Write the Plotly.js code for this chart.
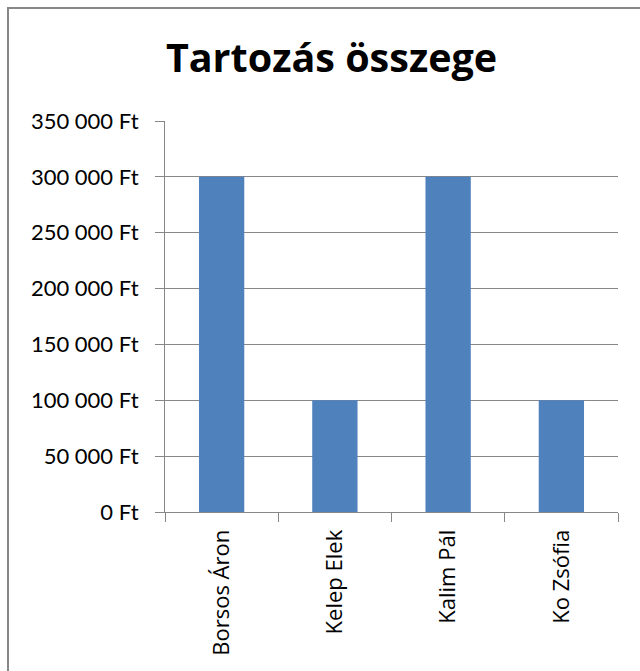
<!DOCTYPE html>
<html>
<head>
<meta charset="utf-8">
<script src="https://cdn.plot.ly/plotly-3.0.1.min.js"></script>
<style>
  html, body { margin: 0; padding: 0; background: #fff; }
  #wrap { position: relative; width: 640px; height: 671px; overflow: hidden; }
  #chart { position: absolute; left: 0; top: 0; width: 640px; height: 671px; }
  #frame { position: absolute; left: 7px; top: 7px; width: 640px; height: 680px;
           border-top: 2px solid #878787; border-left: 2px solid #878787; pointer-events: none; }
</style>
</head>
<body>
<div id="wrap">
  <div id="chart"></div>
  <div id="frame"></div>
</div>
<script>
const categories = ["Borsos Áron", "Kelep Elek", "Kalim Pál", "Ko Zsófia"];
const debts = [300000, 100000, 300000, 100000];
const yTickVals = [0, 50000, 100000, 150000, 200000, 250000, 300000, 350000];
const yTickText = ["0 Ft", "50 000 Ft", "100 000 Ft", "150 000 Ft", "200 000 Ft", "250 000 Ft", "300 000 Ft", "350 000 Ft"];
const chartTitle = "Tartozás összege";

const trace = {
  type: "bar",
  x: categories,
  y: debts,
  marker: { color: "#4F81BD", line: { width: 0 } },
  hoverinfo: "none"
};

const layout = {
  width: 640,
  height: 671,
  paper_bgcolor: "#ffffff",
  plot_bgcolor: "#ffffff",
  margin: { l: 165, r: 22, t: 121, b: 159 },
  showlegend: false,
  bargap: 0.6,
  title: {
    text: "<b>" + chartTitle + "</b>",
    x: 0.518, xanchor: "center", xref: "container",
    y: 1 - 58 / 671, yanchor: "middle", yref: "container",
    font: { family: "'Open Sans', Lato, sans-serif", size: 39.5, color: "#000000" }
  },
  xaxis: {
    type: "category",
    tickson: "boundaries",
    ticks: "outside",
    ticklen: 9,
    tickcolor: "#878787",
    tickwidth: 1,
    showline: true,
    linecolor: "#878787",
    linewidth: 1,
    showgrid: false,
    tickangle: -90,
    ticklabelstandoff: 8,
    tickfont: { family: "'Open Sans', sans-serif", size: 22, color: "#000000" },
    fixedrange: true
  },
  yaxis: {
    range: [0, 350000],
    tickvals: yTickVals,
    ticktext: yTickText,
    ticks: "outside",
    ticklen: 9,
    tickcolor: "#878787",
    tickwidth: 1,
    showline: true,
    linecolor: "#878787",
    linewidth: 1,
    showgrid: true,
    gridcolor: "#878787",
    gridwidth: 1,
    zeroline: false,
    ticklabelstandoff: 12,
    tickfont: { family: "Lato, 'Open Sans', sans-serif", size: 22, color: "#000000" },
    fixedrange: true
  }
};

Plotly.newPlot("chart", [trace], layout, { staticPlot: true, displayModeBar: false });
</script>
</body>
</html>
